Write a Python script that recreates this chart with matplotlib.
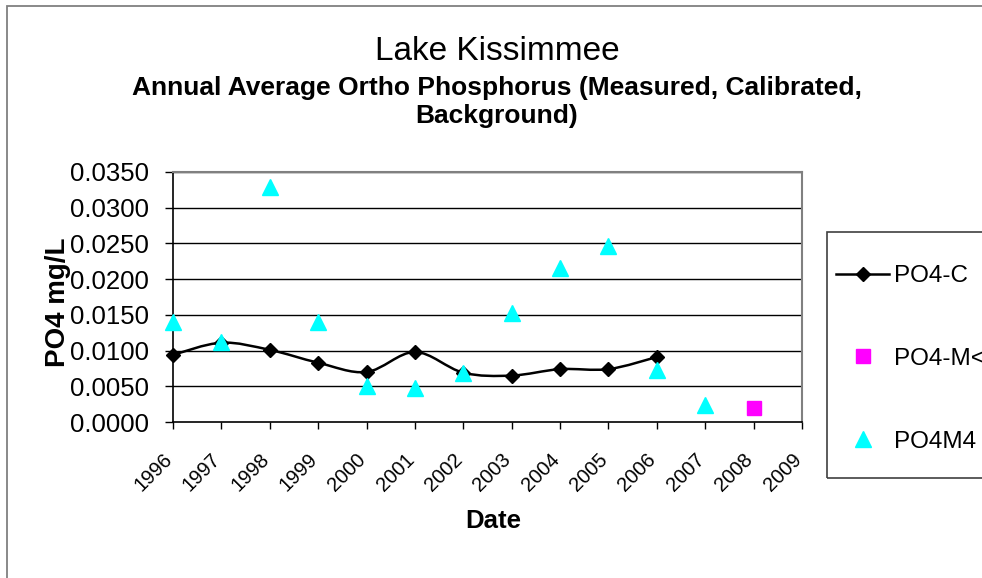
import numpy as np
import matplotlib
matplotlib.use("Agg")
import matplotlib.pyplot as plt
import matplotlib.transforms as mtransforms
from matplotlib.path import Path
from matplotlib.patches import PathPatch, Rectangle
from matplotlib.lines import Line2D

plt.rcParams["font.family"] = ["Liberation Sans", "DejaVu Sans"]

# Annual averages, mg/L
years = ["1996", "1997", "1998", "1999", "2000", "2001", "2002",
         "2003", "2004", "2005", "2006", "2007", "2008", "2009"]
po4_c = [0.0094, 0.0111, 0.0101, 0.0083, 0.0070, 0.0098, 0.0069,
         0.0065, 0.0074, 0.0074, 0.0091]
po4m4 = [0.0140, 0.0112, 0.0329, 0.0140, 0.0050, 0.0047, 0.0069,
         0.0152, 0.0215, 0.0246, 0.0073, 0.0024]
po4_m_lt_year = ["2008"]
po4_m_lt = [0.0020]
y_ticks = [0.0, 0.005, 0.010, 0.015, 0.020, 0.025, 0.030, 0.035]


def smooth_path(x, y, tension=1 / 6):
    # Catmull-Rom style bezier through the points (spreadsheet "smoothed line")
    x = np.asarray(x, float)
    y = np.asarray(y, float)
    verts = [(x[0], y[0])]
    codes = [Path.MOVETO]
    n = len(x)
    for i in range(n - 1):
        p0 = np.array([x[max(i - 1, 0)], y[max(i - 1, 0)]])
        p1 = np.array([x[i], y[i]])
        p2 = np.array([x[i + 1], y[i + 1]])
        p3 = np.array([x[min(i + 2, n - 1)], y[min(i + 2, n - 1)]])
        c1 = p1 + (p2 - p0) * tension
        c2 = p2 - (p3 - p1) * tension
        verts += [tuple(c1), tuple(c2), tuple(p2)]
        codes += [Path.CURVE4] * 3
    return Path(verts, codes)


fig = plt.figure(figsize=(9.82, 5.78), dpi=100)

# outer chart border
fig.patches.append(Rectangle((7 / 982, -0.1), 1.1, 1 - 6 / 578 + 0.1,
                             transform=fig.transFigure, fill=False,
                             edgecolor="#808080", linewidth=1.3))

ax = fig.add_axes([173 / 982, 1 - 422 / 578, 629 / 982, 250 / 578])
x_idx = np.arange(len(years))

ax.set_xlim(0, len(years) - 1)
ax.set_ylim(0, 0.035)
ax.set_yticks(y_ticks)
ax.set_yticklabels([f"{v:.4f}" for v in y_ticks], fontsize=18.5)
ax.set_xticks(x_idx)
ax.set_xticklabels(years, rotation=45, ha="right", va="top", fontsize=14.5)
ax.tick_params(axis="x", direction="out", length=5, width=1, pad=15)
ax.tick_params(axis="y", direction="out", length=5.5, width=1, pad=12)
shift = mtransforms.ScaledTranslation(3 / 100, 0, fig.dpi_scale_trans)
for lbl in ax.get_xticklabels():
    lbl.set_transform(lbl.get_transform() + shift)

for v in y_ticks[1:]:
    ax.axhline(v, color="black", linewidth=1, zorder=1)
for side in ["top", "right"]:
    ax.spines[side].set_color("#808080")
    ax.spines[side].set_linewidth(1.5)
for side in ["left", "bottom"]:
    ax.spines[side].set_color("black")
    ax.spines[side].set_linewidth(1.2)

c_x = x_idx[:len(po4_c)]
ax.add_patch(PathPatch(smooth_path(c_x, po4_c), fill=False, edgecolor="black",
                       linewidth=1.8, zorder=3))
ax.plot(c_x, po4_c, linestyle="none", marker="D", markersize=7.5,
        color="black", zorder=4, clip_on=False)
ax.plot(x_idx[:len(po4m4)], po4m4, linestyle="none", marker="^",
        markersize=11, color="#00FFFF", zorder=5, clip_on=False)
ax.plot([years.index(y) for y in po4_m_lt_year], po4_m_lt, linestyle="none",
        marker="s", markersize=9.5, color="#FF00FF", zorder=5)

fig.text(493 / 982, 1 - 521 / 578, "Date", ha="center", va="center",
         fontsize=18.5, fontweight="bold")
fig.text(58 / 982, 1 - 302 / 578, "PO4 mg/L", ha="center", va="center",
         rotation=90, fontsize=20, fontweight="bold")

fig.text(497 / 982, 1 - 51 / 578, "Lake Kissimmee", ha="center", va="center",
         fontsize=24)
fig.text(497 / 982, 1 - 102 / 578,
         "Annual Average Ortho Phosphorus (Measured, Calibrated,\nBackground)",
         ha="center", va="center", fontsize=19, fontweight="bold",
         linespacing=1.2)

# legend box runs off the right edge
fig.patches.append(Rectangle((827 / 982, 1 - 478 / 578), 0.3, 246 / 578,
                             transform=fig.transFigure, fill=False,
                             edgecolor="#404040", linewidth=1.2))
handles = [
    Line2D([], [], color="black", marker="D", markersize=7, linewidth=1.8),
    Line2D([], [], color="#FF00FF", marker="s", markersize=10, linestyle="none"),
    Line2D([], [], color="#00FFFF", marker="^", markersize=11, linestyle="none"),
]
fig.legend(handles, ["PO4-C", "PO4-M<", "PO4M4"], loc="upper left",
           bbox_to_anchor=(836 / 982, 1 - 265 / 578), frameon=False,
           fontsize=17.5, labelspacing=2.5, handlelength=2.2,
           handletextpad=0.2, borderpad=0, borderaxespad=0)

fig.savefig("out.png", dpi=100)
